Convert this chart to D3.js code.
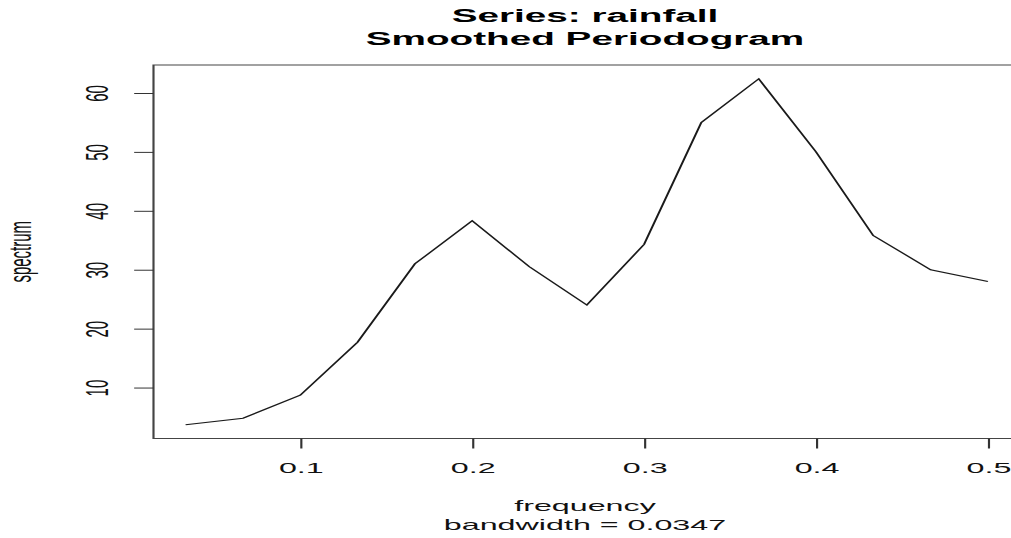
<!DOCTYPE html>
<html>
<head>
<meta charset="utf-8">
<script src="https://cdn.jsdelivr.net/npm/d3@7"></script>
<style>
  html, body { margin: 0; padding: 0; background: #fff; }
  svg { display: block; }
  text { font-family: "Liberation Sans", Arial, sans-serif; fill: #111; }
</style>
</head>
<body>
<script>
// Smoothed periodogram of the rainfall series
const frequency = [0.0333, 0.0667, 0.1, 0.1333, 0.1667, 0.2, 0.2333, 0.2667,
                   0.3, 0.3333, 0.3667, 0.4, 0.4333, 0.4667, 0.5];
const spectrum  = [3.7, 4.8, 8.7, 17.7, 31.0, 38.3, 30.5, 24.0,
                   34.3, 55.0, 62.4, 50.0, 35.8, 30.0, 28.0];
const xTicks = [0.1, 0.2, 0.3, 0.4, 0.5];
const yTicks = [10, 20, 30, 40, 50, 60];
const titleLines = ["Series: rainfall", "Smoothed Periodogram"];
const xLabel = "frequency";
const subLabel = "bandwidth = 0.0347";
const yLabel = "spectrum";

const W = 1011, H = 538;
const sx = 2.15;               // device is wider than tall: stretch everything horizontally
const plot = { left: 153.5, right: 1020, top: 65, bottom: 438.5 };

const svg = d3.select("body").append("svg")
  .attr("width", W).attr("height", H);
const g = svg.append("g").attr("transform", `scale(${sx},1)`);

// R-style axis ranges: data extent padded by 4% on each side
function padded(ext) {
  const r = ext[1] - ext[0];
  return [ext[0] - 0.04 * r, ext[1] + 0.04 * r];
}
const x = d3.scaleLinear()
  .domain(padded(d3.extent(frequency)))
  .range([plot.left / sx, plot.right / sx]);
const y = d3.scaleLinear()
  .domain(padded(d3.extent(spectrum)))
  .range([plot.bottom, plot.top]);

// plot box
g.append("rect")
  .attr("x", plot.left / sx).attr("y", plot.top)
  .attr("width", (plot.right - plot.left) / sx)
  .attr("height", plot.bottom - plot.top)
  .attr("fill", "none").attr("stroke", "#444").attr("stroke-width", 1);

// x axis
const xAxis = g.append("g")
  .attr("transform", `translate(0,${plot.bottom})`)
  .call(d3.axisBottom(x).tickValues(xTicks).tickSize(10).tickFormat(d3.format(".1f")));
xAxis.select(".domain").remove();
xAxis.selectAll(".tick line").attr("stroke", "#333").attr("stroke-width", 1);
xAxis.selectAll(".tick text")
  .attr("y", 34.5).attr("dy", null)
  .style("font-size", "15px").style("fill", "#111");

// y axis with labels turned parallel to the axis
const yAxis = g.append("g")
  .attr("transform", `translate(${plot.left / sx},0)`)
  .call(d3.axisLeft(y).tickValues(yTicks).tickSize(9).tickFormat(d3.format("d")));
yAxis.select(".domain").remove();
yAxis.selectAll(".tick line").attr("stroke", "#333").attr("stroke-width", 1);
yAxis.selectAll(".tick text")
  .attr("x", null).attr("dy", null)
  .attr("text-anchor", "middle")
  .attr("transform", `translate(${-(plot.left - 108) / sx},0) rotate(-90)`)
  .style("font-size", "15px").style("fill", "#111");

// spectrum curve
const line = d3.line()
  .x((d, i) => x(frequency[i]))
  .y(d => y(d));
g.append("path")
  .datum(spectrum)
  .attr("d", line)
  .attr("fill", "none")
  .attr("stroke", "#1a1a1a")
  .attr("stroke-width", 1)
  .attr("stroke-linejoin", "miter");

// titles
const cx = 585 / sx;
g.selectAll("text.title").data(titleLines).enter().append("text")
  .attr("class", "title")
  .attr("x", cx).attr("y", (d, i) => 22.5 + i * 22.5)
  .attr("text-anchor", "middle")
  .style("font-size", "18px").style("font-weight", "bold").style("fill", "#000")
  .text(d => d);

g.append("text")
  .attr("x", cx).attr("y", 511.5)
  .attr("text-anchor", "middle")
  .style("font-size", "15px")
  .text(xLabel);
g.append("text")
  .attr("x", cx).attr("y", 530)
  .attr("text-anchor", "middle")
  .style("font-size", "15px")
  .text(subLabel);

g.append("text")
  .attr("transform", `translate(${31 / sx},${(plot.top + plot.bottom) / 2}) rotate(-90)`)
  .attr("text-anchor", "middle")
  .style("font-size", "15px")
  .text(yLabel);
</script>
</body>
</html>
